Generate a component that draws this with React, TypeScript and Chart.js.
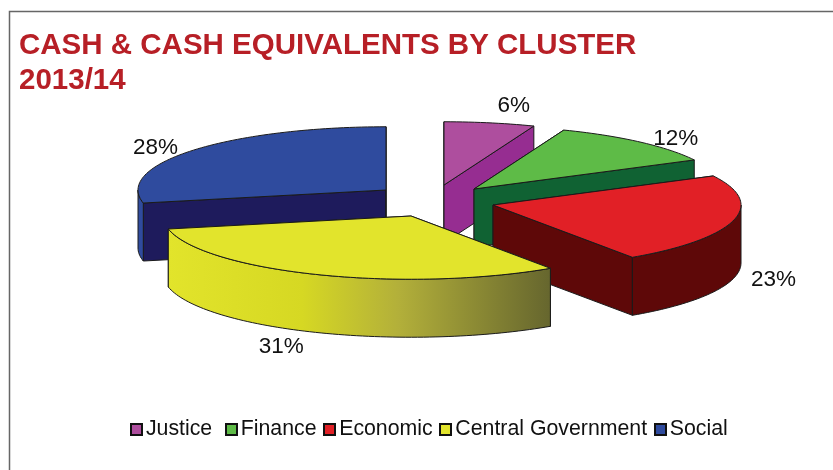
import React, { useEffect, useRef } from "react";
import { Chart, registerables } from "chart.js";

Chart.register(...registerables);

const titleLines = ["CASH & CASH EQUIVALENTS BY CLUSTER", "2013/14"];
const categories = ["Justice ", "Finance", "Economic", "Central Government", "Social"];
const shares = [5.9, 11.5, 23.1, 31.2, 28.3];
const topColours = ["#AE4E9E", "#5EBB47", "#E12026", "#E2E42C", "#2F4B9E"];
const wallColours = ["#962D91", "#106233", "#5E0808", "#E2E42C", "#1E1B5C"];
const rimColours = ["#962D91", "#106233", "#5E0808", "", "#2F4B9E"];
const rimGradient: [number, string][] = [
  [0, "#E2E42B"],
  [0.35, "#D6D823"],
  [0.6, "#B3B03A"],
  [1, "#66662E"],
];
const explodeX = [12, 42, 61, -21, -46];
const explodeY = [-16.5, -12.5, 3.5, 14.5, -11.5];
const labelNudge = [
  [24, -17],
  [36, -3],
  [40, 59],
  [-37, 72],
  [-38, -2],
];
const paintOrder = [4, 0, 1, 2, 3];

const FONT = "'Liberation Sans', Arial, sans-serif";
const LEGEND_SIZE = 21.3;
const pieCentre = { x: 432, y: 201.5 };
const squash = 0.255;
const depth = 58;
const outline = "#1a1a1a";

function apexOf(i: number) {
  return { x: pieCentre.x + explodeX[i], y: pieCentre.y + explodeY[i] };
}

function rimPath(ctx: CanvasRenderingContext2D, ax: number, ay: number, R: number, a0: number, a1: number, dy: number, forward = true) {
  const n = Math.max(2, Math.ceil((a1 - a0) * 40));
  for (let k = 0; k <= n; k++) {
    const t = forward ? k / n : 1 - k / n;
    const a = a0 + (a1 - a0) * t;
    ctx.lineTo(ax + Math.cos(a) * R, ay + Math.sin(a) * R * squash + dy);
  }
}

const pie3d = {
  id: "pie3d",
  beforeDraw(chart: any) {
    const { ctx } = chart;
    ctx.save();
    ctx.strokeStyle = "#666666";
    ctx.lineWidth = 1.5;
    ctx.beginPath();
    ctx.moveTo(9.5, 470);
    ctx.lineTo(9.5, 11.5);
    ctx.lineTo(833, 11.5);
    ctx.stroke();
    ctx.restore();
  },
  beforeDatasetsDraw(chart: any) {
    const { ctx } = chart;
    const arcs = chart.getDatasetMeta(0).data;
    for (const i of paintOrder) {
      const arc = arcs[i];
      const { startAngle: s, endAngle: e, outerRadius: R } = arc;
      const { x: ax, y: ay } = apexOf(i);
      ctx.save();
      ctx.lineWidth = 1;
      ctx.strokeStyle = outline;
      ctx.lineJoin = "round";

      // flat cut faces
      for (const a of [s, e]) {
        ctx.beginPath();
        ctx.moveTo(ax, ay);
        ctx.lineTo(ax + Math.cos(a) * R, ay + Math.sin(a) * R * squash);
        ctx.lineTo(ax + Math.cos(a) * R, ay + Math.sin(a) * R * squash + depth);
        ctx.lineTo(ax, ay + depth);
        ctx.closePath();
        ctx.fillStyle = wallColours[i];
        ctx.fill();
        ctx.stroke();
      }

      // outer rim, front-facing part only
      const r0 = Math.max(s, 0);
      const r1 = Math.min(e, Math.PI);
      if (r1 > r0) {
        ctx.beginPath();
        ctx.moveTo(ax + Math.cos(r0) * R, ay + Math.sin(r0) * R * squash);
        rimPath(ctx, ax, ay, R, r0, r1, 0);
        rimPath(ctx, ax, ay, R, r0, r1, depth, false);
        ctx.closePath();
        if (rimColours[i]) {
          ctx.fillStyle = rimColours[i];
        } else {
          const xa = ax + Math.cos(r1) * R;
          const xb = ax + Math.cos(r0) * R;
          const g = ctx.createLinearGradient(xa, 0, xb, 0);
          rimGradient.forEach(([p, c]) => g.addColorStop(p, c));
          ctx.fillStyle = g;
        }
        ctx.fill();
        ctx.stroke();
      }

      // top face, drawn by the library's arc element
      ctx.save();
      ctx.translate(ax, ay);
      ctx.scale(1, squash);
      ctx.translate(-arc.x, -arc.y);
      arc.draw(ctx);
      ctx.restore();

      ctx.beginPath();
      ctx.moveTo(ax, ay);
      rimPath(ctx, ax, ay, R, s, e, 0);
      ctx.closePath();
      ctx.stroke();
      ctx.restore();
    }
    return false;
  },
  afterDraw(chart: any) {
    const { ctx } = chart;
    const arcs = chart.getDatasetMeta(0).data;
    ctx.save();
    ctx.font = `22.5px ${FONT}`;
    ctx.fillStyle = "#111111";
    ctx.textAlign = "center";
    ctx.textBaseline = "middle";
    arcs.forEach((arc: any, i: number) => {
      const mid = (arc.startAngle + arc.endAngle) / 2;
      const { x: ax, y: ay } = apexOf(i);
      const lx = ax + Math.cos(mid) * arc.outerRadius + labelNudge[i][0];
      const ly = ay + Math.sin(mid) * arc.outerRadius * squash + labelNudge[i][1];
      ctx.fillText(`${Math.round(shares[i])}%`, lx, ly);
    });
    // legend swatches, placed on the legend's own hit boxes
    const boxes = chart.legend.legendHitBoxes;
    boxes.forEach((b: any, i: number) => {
      ctx.fillStyle = topColours[i];
      ctx.strokeStyle = "#111111";
      ctx.lineWidth = 2;
      const size = 11;
      const textX = b.left + 1 + LEGEND_SIZE / 2;
      const x = Math.round(textX - 3 - size - 1);
      const y = Math.round(b.top + b.height / 2 - size / 2);
      ctx.fillRect(x, y, size, size);
      ctx.strokeRect(x, y, size, size);
    });
    ctx.restore();
  },
};

export default function App() {
  const ref = useRef<HTMLCanvasElement | null>(null);
  useEffect(() => {
    if (!ref.current) return;
    const chart = new Chart(ref.current, {
      type: "pie",
      data: {
        labels: categories,
        datasets: [
          {
            data: shares,
            backgroundColor: topColours,
            borderWidth: 0,
            offset: 0,
          },
        ],
      },
      plugins: [pie3d],
      options: {
        responsive: false,
        animation: false,
        radius: 248,
        layout: { padding: { left: 19, right: -10, top: 28, bottom: 20 } },
        plugins: {
          tooltip: { enabled: false },
          title: {
            display: true,
            align: "start",
            text: titleLines,
            color: "#B71F26",
            font: { family: FONT, size: 29.5, weight: "bold", lineHeight: 1.2 },
            padding: { top: 0, bottom: 0 },
          },
          legend: {
            display: true,
            position: "bottom",
            labels: {
              boxWidth: 1,
              padding: 11,
              color: "#111111",
              font: { family: FONT, size: LEGEND_SIZE },
              generateLabels: () =>
                categories.map((text, index) => ({
                  text,
                  index,
                  fillStyle: "transparent",
                  strokeStyle: "transparent",
                  lineWidth: 0,
                  hidden: false,
                  fontColor: "#111111",
                })),
            },
          },
        },
      },
    } as any);
    return () => chart.destroy();
  }, []);
  return (
    <canvas
      ref={ref}
      width={833}
      height={470}
      style={{ position: "fixed", left: 0, top: 0, width: 833, height: 470, display: "block" }}
    />
  );
}
